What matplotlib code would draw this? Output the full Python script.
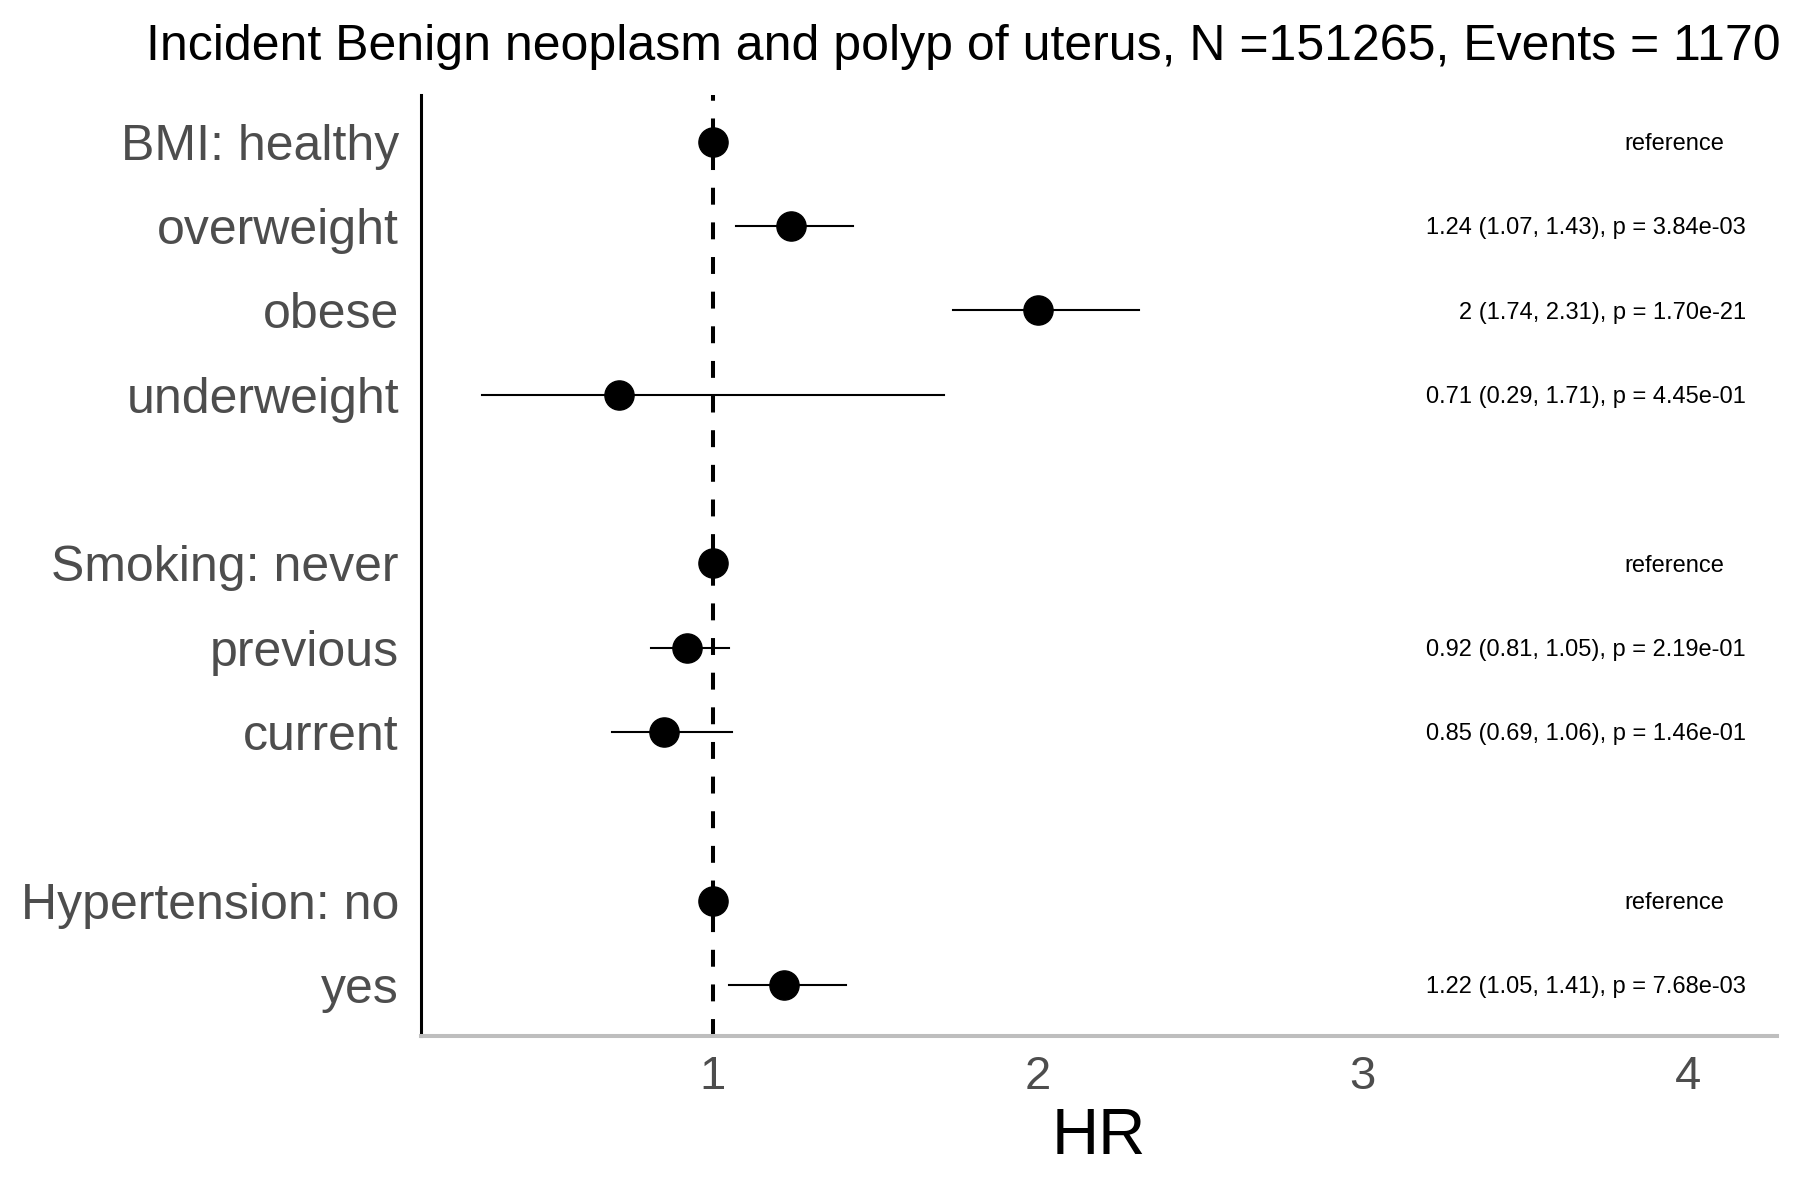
import matplotlib
matplotlib.use("Agg")
import matplotlib.pyplot as plt
import numpy as np

plt.rcParams["font.family"] = ["Liberation Sans", "DejaVu Sans"]

# ============================ data ============================
labels = ["BMI: healthy", "overweight", "obese", "underweight",
          "Smoking: never", "previous", "current",
          "Hypertension: no", "yes"]
rows = [0, 1, 2, 3, 5, 6, 7, 9, 10]          # gaps between groups
hr = [1, 1.24, 2, 0.71, 1, 0.92, 0.85, 1, 1.22]
ci_lo = [np.nan, 1.07, 1.74, 0.29, np.nan, 0.81, 0.69, np.nan, 1.05]
ci_hi = [np.nan, 1.43, 2.31, 1.71, np.nan, 1.05, 1.06, np.nan, 1.41]
pvals = [np.nan, 3.84e-03, 1.70e-21, 4.45e-01, np.nan, 2.19e-01, 1.46e-01, np.nan, 7.68e-03]
xticks = [1, 2, 3, 4]
title = "Incident Benign neoplasm and polyp of uterus, N =151265, Events = 1170"

grey = "#4D4D4D"

fig = plt.figure(figsize=(18, 12), dpi=100)
ax = fig.add_axes([0.234, 0.137, 0.753, 0.784])

# reference line at HR = 1
ax.axvline(1, color="black", lw=2.9, dashes=(4.2, 4.4), zorder=1)

# confidence intervals + points
for y, h, lo, hi in zip(rows, hr, ci_lo, ci_hi):
    if not np.isnan(lo):
        ax.plot([lo, hi], [y, y], color="black", lw=1.5, zorder=2)
    ax.plot(h, y, "o", color="black", ms=21, zorder=3)

# text column on the right
for y, h, lo, hi, p in zip(rows, hr, ci_lo, ci_hi, pvals):
    if np.isnan(lo):
        ax.text(3.96, y, "reference", ha="center", va="center_baseline", fontsize=17)
    else:
        ax.text(4.18, y, f"{h:g} ({lo:.2f}, {hi:.2f}), p = {p:.2e}",
                ha="right", va="center_baseline", fontsize=17)

ax.set_xlim(0.102, 4.274)
ax.set_ylim(10.6, -0.555)
ax.set_yticks(rows)
ax.set_yticklabels(labels)
ax.set_xticks(xticks)
ax.set_xticklabels([str(t) for t in xticks])
ax.tick_params(axis="y", length=0, pad=16, labelsize=36, labelcolor=grey)
ax.tick_params(axis="x", length=0, pad=14, labelsize=34, labelcolor=grey)
ax.set_xlabel("HR", fontsize=47, labelpad=6)

for s in ["top", "right"]:
    ax.spines[s].set_visible(False)
ax.spines["left"].set_color("black")
ax.spines["left"].set_linewidth(2.2)
ax.spines["bottom"].set_color("#BEBEBE")
ax.spines["bottom"].set_linewidth(2.9)

fig.text(963 / 1800, 1 - 60 / 1200, title, ha="center", va="baseline", fontsize=36)

fig.savefig("out.png", dpi=100)
